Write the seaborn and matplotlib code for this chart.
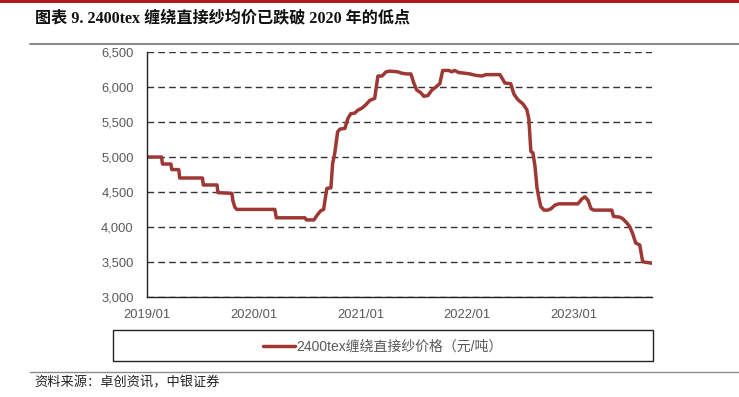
import numpy as np
import pandas as pd
import seaborn as sns
import matplotlib.pyplot as plt
from matplotlib.patches import Rectangle
from matplotlib.lines import Line2D

# 2400tex 缠绕直接纱价格（元/吨）
dates = ['2019-01-01', '2019-02-20', '2019-02-23', '2019-03-24', '2019-03-27', '2019-04-20',
         '2019-04-23', '2019-07-10', '2019-07-13', '2019-08-29', '2019-09-01', '2019-10-19',
         '2019-10-22', '2019-10-29', '2019-11-05', '2020-03-14', '2020-03-19', '2020-06-25',
         '2020-06-30', '2020-07-26', '2020-08-08', '2020-08-18', '2020-08-28', '2020-09-08',
         '2020-09-22', '2020-09-28', '2020-10-05', '2020-10-15', '2020-10-23', '2020-11-09',
         '2020-11-19', '2020-11-29', '2020-12-13', '2020-12-23', '2021-01-06', '2021-01-20',
         '2021-02-02', '2021-02-19', '2021-03-02', '2021-03-16', '2021-03-30', '2021-04-12',
         '2021-05-09', '2021-05-23', '2021-06-09', '2021-06-23', '2021-07-03', '2021-07-13',
         '2021-07-27', '2021-08-06', '2021-08-20', '2021-09-03', '2021-09-16', '2021-09-30',
         '2021-10-10', '2021-10-31', '2021-11-10', '2021-11-20', '2021-12-04', '2021-12-25',
         '2022-01-11', '2022-01-31', '2022-02-21', '2022-03-07', '2022-04-24', '2022-05-11',
         '2022-05-31', '2022-06-11', '2022-06-25', '2022-07-12', '2022-07-25', '2022-08-01',
         '2022-08-08', '2022-08-15', '2022-08-22', '2022-08-29', '2022-09-05', '2022-09-11',
         '2022-09-22', '2022-10-05', '2022-10-16', '2022-10-29', '2022-11-12', '2023-01-16',
         '2023-01-30', '2023-02-09', '2023-02-20', '2023-03-02', '2023-03-12', '2023-05-12',
         '2023-05-18', '2023-06-08', '2023-06-18', '2023-07-02', '2023-07-13', '2023-07-23',
         '2023-08-02', '2023-08-16', '2023-08-26', '2023-09-26']
prices = [5000, 5000, 4900, 4900, 4820, 4820,
          4700, 4700, 4600, 4600, 4490, 4480,
          4380, 4280, 4250, 4250, 4130, 4130,
          4100, 4100, 4180, 4230, 4250, 4550,
          4560, 4910, 5050, 5360, 5400, 5410,
          5550, 5620, 5630, 5670, 5700, 5750,
          5810, 5840, 6160, 6160, 6220, 6230,
          6220, 6200, 6190, 6190, 6060, 5960,
          5920, 5870, 5880, 5960, 6000, 6050,
          6240, 6240, 6220, 6240, 6210, 6200,
          6190, 6170, 6160, 6180, 6180, 6060,
          6050, 5900, 5820, 5760, 5680, 5550,
          5080, 5060, 4870, 4560, 4400, 4290,
          4240, 4240, 4260, 4310, 4330, 4330,
          4400, 4430, 4380, 4260, 4240, 4240,
          4150, 4140, 4120, 4060, 4000, 3900,
          3770, 3740, 3500, 3480]

series_name = '2400tex缠绕直接纱价格（元/吨）'
title_text = '图表 9. 2400tex 缠绕直接纱均价已跌破 2020 年的低点'
source_text = '资料来源：卓创资讯，中银证券'
y_ticks = [3000, 3500, 4000, 4500, 5000, 5500, 6000, 6500]

df = pd.DataFrame({'date': pd.to_datetime(dates), 'price': prices})

sns.set_style('white')
plt.rcParams['font.family'] = ['Liberation Sans', 'Noto Sans CJK SC', 'DejaVu Sans']

line_color = '#9E3835'
tick_color = '#595959'

fig = plt.figure(figsize=(7.39, 3.97), dpi=100)
ax = fig.add_axes([0.1989, 0.2526, 0.6834, 0.6157])

sns.lineplot(data=df, x='date', y='price', ax=ax, color=line_color, linewidth=2.5)

ax.set_ylim(3000, 6500)
ax.set_yticks(y_ticks)
ax.set_yticklabels([f'{v:,}' for v in y_ticks])
ax.set_xlim(pd.Timestamp('2019-01-01'), pd.Timestamp('2023-09-27'))
xt = pd.date_range('2019-01-01', '2023-07-01', freq='6MS')
ax.set_xticks(xt)
ax.set_xticklabels([d.strftime('%Y/%m') if d.month == 1 else '' for d in xt])

ax.set_xlabel('')
ax.set_ylabel('')
ax.yaxis.grid(True, linestyle=(0, (4.8, 3.0)), color='#333333', linewidth=1.0)
ax.xaxis.grid(False)
ax.set_axisbelow(True)
for s in ['top', 'right']:
    ax.spines[s].set_visible(False)
for s in ['left', 'bottom']:
    ax.spines[s].set_color('#222222')
    ax.spines[s].set_linewidth(1.0)
ax.tick_params(axis='both', direction='out', length=3.5, width=1.0, color='#222222',
               labelcolor=tick_color, labelsize=9.3)
ax.tick_params(axis='x', pad=5.5)
ax.tick_params(axis='y', pad=6)

# 标题、顶部红线、分隔线
fig.add_artist(Rectangle((0, 0.992), 1, 0.008, transform=fig.transFigure,
                         color='#B11A1A', lw=0))
fig.text(0.047, 0.955, title_text, fontsize=11.6, fontweight='bold', va='center',
         family=['Liberation Serif', 'Noto Sans CJK SC'], color='#111111')
fig.add_artist(Line2D([0.041, 1.0], [0.89, 0.89], transform=fig.transFigure,
                      color='#8C8C8C', lw=1.5))

# 图例框
fig.add_artist(Rectangle((0.153, 0.0914), 0.731, 0.0776, transform=fig.transFigure,
                         fill=False, edgecolor='#222222', lw=1.0))
handle = Line2D([], [], color=line_color, linewidth=2.5)
leg = fig.legend([handle], [series_name], loc='center', bbox_to_anchor=(0.518, 0.126),
                 frameon=False, fontsize=10, handlelength=2.3, handletextpad=0.1)
for t in leg.get_texts():
    t.set_color(tick_color)
    t.set_family(['Liberation Sans', 'Noto Sans CJK SC'])

# 底部分隔线与资料来源
fig.add_artist(Line2D([0.041, 1.0], [0.0637, 0.0637], transform=fig.transFigure,
                      color='#8C8C8C', lw=1.0))
fig.text(0.047, 0.036, source_text, fontsize=9.5, va='center', style='italic',
         family=['Noto Sans CJK SC'], color='#222222')

fig.savefig('out.png', dpi=100)
